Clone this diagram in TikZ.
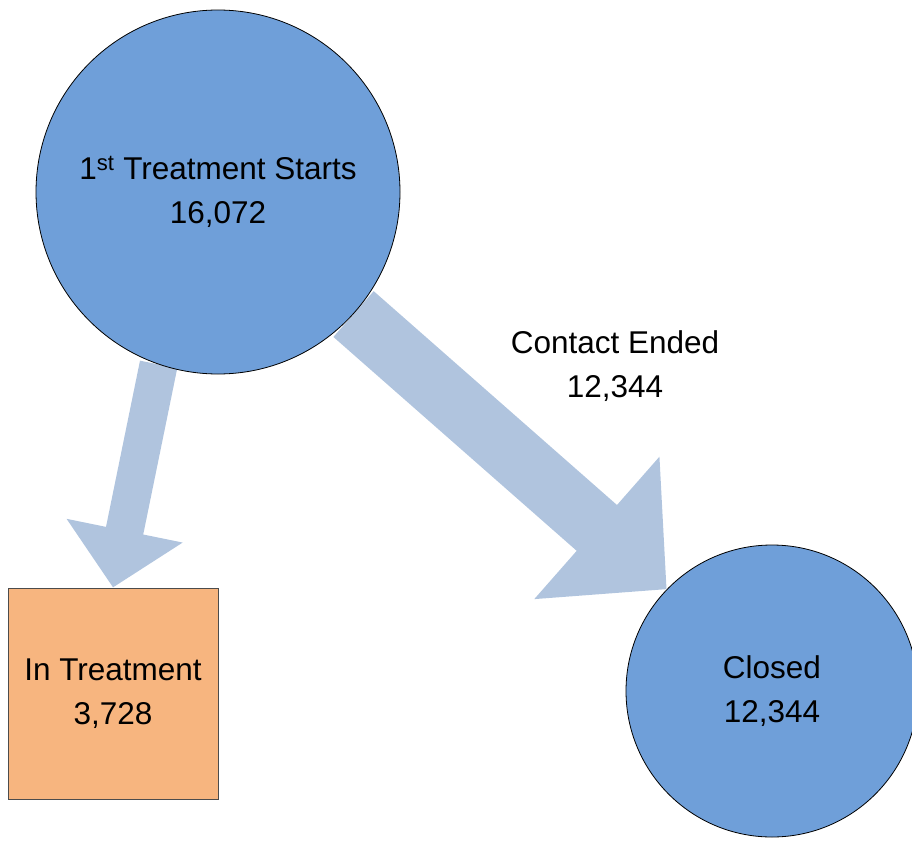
\documentclass[tikz,border=0pt]{standalone}
\usepackage{fontspec}
\setmainfont{Liberation Sans}
\usetikzlibrary{arrows.meta,backgrounds}
\definecolor{bubblecolor}{HTML}{6F9FD9}
\definecolor{flowcolor}{HTML}{B0C4DE}
\definecolor{boxcolor}{HTML}{F7B57F}
\tikzset{
  bubble/.style={circle, draw=black, fill=bubblecolor, line width=0.8pt, align=center, inner sep=0pt},
  box/.style={rectangle, draw=black!70, fill=boxcolor, line width=1pt, align=center, minimum width=210pt, minimum height=211pt},
  flow/.style n args={3}{draw=flowcolor, line width=#1, -{Triangle[width=#2, length=#3]}},
}
\begin{document}
\begin{tikzpicture}[x=1pt, y=-1pt, font=\fontsize{31.5}{44}\selectfont]
\useasboundingbox (0,0) rectangle (912,840);
\node[bubble, minimum size=364pt] (start) at (218,192) {1\textsuperscript{st} Treatment Starts\\16,072};
\node[box] (intreat) at (113,693.5) {In Treatment\\3,728\hspace{12pt}};
\node[bubble, minimum size=292pt] (closed) at (772,691) {Closed\\12,344};
\node[align=center] (lblcontact) at (615,366) {Contact Ended\\12,344};
% flows drawn behind the nodes
\begin{scope}[on background layer]
\draw[flow={38pt}{115pt}{58pt}] (start.-109) -- (intreat.north);
\draw[flow={61pt}{184pt}{93pt}] (start.-42) -- (closed.136);
\end{scope}
\end{tikzpicture}
\end{document}
